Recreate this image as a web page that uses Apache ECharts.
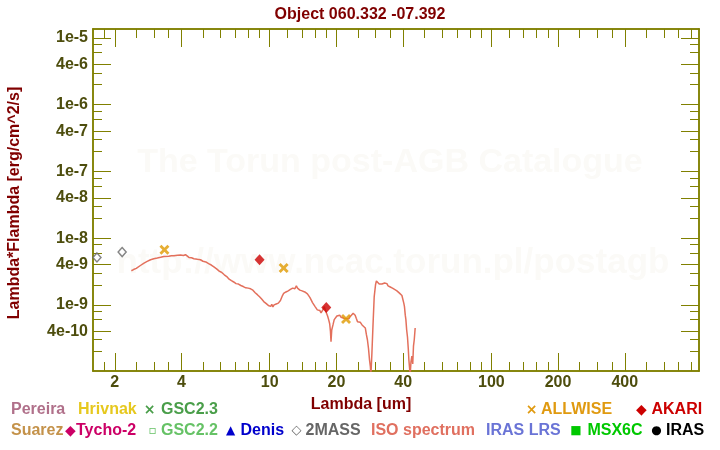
<!DOCTYPE html>
<html><head><meta charset="utf-8">
<script src="https://cdn.jsdelivr.net/npm/echarts@6/dist/echarts.min.js"></script>
<style>html,body{margin:0;padding:0;background:#fff}#c{width:720px;height:450px}</style>
</head><body><div id="c"></div>
<script>
// ---------- data ----------
const TITLE = 'Object 060.332 -07.392';
const X_NAME = 'Lambda [um]';
const Y_NAME = 'Lambda*Flambda [erg/cm^2/s]';
const X_MIN = 1.595, X_MAX = 865;
const Y_MIN = 1.02e-10, Y_MAX = 1.36e-5;
const X_MAJOR = [2, 4, 10, 20, 40, 100, 200, 400];
const X_MINOR = [1.8, 2.5, 3, 3.5, 5, 6, 7, 8, 9, 12, 14, 16, 18, 25, 30, 35, 50, 60, 70, 80, 90, 120, 140, 160, 180, 250, 300, 350, 500, 600, 700, 800];
const Y_MAJOR = [1e-5, 4e-6, 1e-6, 4e-7, 1e-7, 4e-8, 1e-8, 4e-9, 1e-9, 4e-10];
const Y_MINOR = [8e-6, 6e-6, 3e-6, 2e-6, 8e-7, 6e-7, 3e-7, 2e-7, 8e-8, 6e-8, 3e-8, 2e-8, 8e-9, 6e-9, 3e-9, 2e-9, 8e-10, 6e-10, 3e-10, 2e-10];

const ISO_WAVE = [2.376, 2.43, 2.50, 2.53, 2.62, 2.71, 2.80, 2.90, 3.00, 3.11, 3.22, 3.33, 3.50, 3.60, 3.70, 3.84, 3.96, 4.08, 4.17, 4.25, 4.32, 4.44, 4.55, 4.62, 4.72, 4.87,
  5.00, 5.08, 5.15, 5.22, 5.30, 5.38, 5.45, 5.52, 5.60, 5.68, 5.76, 5.84, 5.92, 6.00, 6.08, 6.16, 6.24, 6.32, 6.40, 6.48, 6.56, 6.64, 6.72, 6.80, 6.88, 6.96,
  7.05, 7.14, 7.23, 7.32, 7.41, 7.50, 7.60, 7.70, 7.80, 7.90, 8.00, 8.10, 8.20, 8.30, 8.40, 8.50, 8.60, 8.70, 8.80, 8.90, 9.00, 9.10, 9.20, 9.30, 9.40, 9.50,
  9.62, 9.74, 9.86, 9.98, 10.10, 10.22, 10.34, 10.46, 10.58, 10.70, 10.82, 10.94, 11.06, 11.18, 11.30, 11.42, 11.56, 11.70, 11.84, 11.98, 12.12, 12.26, 12.40,
  12.55, 12.70, 12.85, 13.00, 13.19, 13.35, 13.51, 13.68, 13.85, 14.00, 14.20, 14.40, 14.60, 14.80, 15.00, 15.20, 15.40, 15.60, 15.80, 16.00, 16.20, 16.40,
  16.63, 16.85, 17.05, 17.25, 17.45, 17.64, 17.85, 18.05, 18.25, 18.45, 18.65, 18.80, 18.91, 19.05, 19.30, 19.55, 19.80, 20.10, 20.40, 20.70, 21.00, 21.30,
  21.60, 21.90, 22.20, 22.50, 22.80, 23.10, 23.50, 23.80, 24.08, 24.30, 24.58, 24.90, 25.20, 25.60, 26.10, 26.50, 27.00, 27.30, 27.60, 27.92, 28.21, 28.45,
  28.63, 28.92, 29.23, 29.62, 30.03, 30.30, 30.60, 30.90, 31.20, 31.50, 31.80, 32.10, 32.40, 32.70, 33.00, 33.40, 33.80, 34.20, 34.60, 35.00, 35.40, 35.80,
  36.20, 36.60, 37.00, 37.50, 38.00, 38.50, 39.00, 39.50, 39.90, 40.30, 40.56, 40.90, 41.16, 41.50, 41.85, 42.20, 42.46, 42.80, 43.04, 43.40, 43.80, 44.20,
  44.54, 44.90, 45.33];
const ISO_FLUX = [3.24e-9, 3.38e-9, 3.52e-9, 3.63e-9, 3.92e-9, 4.23e-9, 4.47e-9, 4.74e-9, 4.91e-9, 5.02e-9, 5.16e-9, 5.31e-9, 5.35e-9, 5.42e-9, 5.45e-9, 5.53e-9, 5.57e-9, 5.48e-9, 5.64e-9, 5.40e-9, 5.13e-9, 5.08e-9, 4.91e-9, 5.05e-9, 4.81e-9, 4.74e-9,
  4.50e-9, 4.70e-9, 4.40e-9, 4.45e-9, 4.15e-9, 4.30e-9, 3.95e-9, 4.05e-9, 3.70e-9, 3.80e-9, 3.45e-9, 3.55e-9, 3.20e-9, 3.35e-9, 3.05e-9, 3.10e-9, 2.82e-9, 2.95e-9, 2.65e-9, 2.70e-9, 2.42e-9, 2.50e-9, 2.30e-9, 2.38e-9, 2.20e-9, 2.25e-9,
  2.08e-9, 2.20e-9, 2.05e-9, 2.10e-9, 1.95e-9, 2.05e-9, 1.88e-9, 1.95e-9, 1.80e-9, 1.88e-9, 1.78e-9, 1.88e-9, 1.74e-9, 1.82e-9, 1.66e-9, 1.70e-9, 1.52e-9, 1.58e-9, 1.42e-9, 1.46e-9, 1.32e-9, 1.38e-9, 1.22e-9, 1.26e-9, 1.12e-9, 1.18e-9,
  1.05e-9, 1.10e-9, 0.98e-9, 1.04e-9, 0.95e-9, 1.02e-9, 0.93e-9, 1.00e-9, 0.94e-9, 1.03e-9, 0.97e-9, 1.06e-9, 1.02e-9, 1.16e-9, 1.12e-9, 1.38e-9, 1.48e-9, 1.40e-9, 1.56e-9, 1.50e-9, 1.62e-9, 1.55e-9, 1.70e-9,
  1.62e-9, 1.78e-9, 1.84e-9, 1.74e-9, 1.93e-9, 1.78e-9, 1.72e-9, 1.66e-9, 1.70e-9, 1.62e-9, 1.70e-9, 1.56e-9, 1.58e-9, 1.46e-9, 1.42e-9, 1.28e-9, 1.20e-9, 1.08e-9, 1.04e-9, 0.95e-9, 0.90e-9, 0.84e-9,
  0.79e-9, 0.82e-9, 0.76e-9, 0.80e-9, 0.86e-9, 0.94e-9, 0.82e-9, 0.78e-9, 0.68e-9, 0.60e-9, 0.52e-9, 0.40e-9, 0.28e-9, 0.42e-9, 0.50e-9, 0.60e-9, 0.64e-9, 0.68e-9, 0.66e-9, 0.70e-9, 0.65e-9, 0.68e-9,
  0.63e-9, 0.66e-9, 0.62e-9, 0.65e-9, 0.62e-9, 0.67e-9, 0.71e-9, 0.75e-9, 0.79e-9, 0.70e-9, 0.63e-9, 0.56e-9, 0.53e-9, 0.55e-9, 0.50e-9, 0.48e-9, 0.45e-9, 0.36e-9, 0.30e-9, 0.22e-9, 0.15e-9, 0.12e-9,
  0.09e-9, 0.19e-9, 0.47e-9, 1.33e-9, 2.00e-9, 2.28e-9, 2.15e-9, 2.22e-9, 2.05e-9, 2.15e-9, 1.98e-9, 2.05e-9, 1.95e-9, 2.02e-9, 2.12e-9, 2.02e-9, 2.08e-9, 1.92e-9, 1.95e-9, 1.85e-9, 1.88e-9, 1.78e-9,
  1.80e-9, 1.70e-9, 1.72e-9, 1.62e-9, 1.58e-9, 1.50e-9, 1.48e-9, 1.38e-9, 1.30e-9, 1.05e-9, 0.94e-9, 0.70e-9, 0.60e-9, 0.42e-9, 0.33e-9, 0.22e-9, 0.15e-9, 0.11e-9, 0.09e-9, 0.14e-9, 0.17e-9, 0.13e-9,
  0.24e-9, 0.30e-9, 0.45e-9];

const TWOMASS_WAVE = [1.662, 2.159];
const TWOMASS_FLUX = [5.13e-9, 6.18e-9];
const ALLWISE_WAVE = [3.35, 11.56, 22.1];
const ALLWISE_FLUX = [6.70e-9, 3.56e-9, 6.16e-10];
const AKARI_WAVE = [9, 18];
const AKARI_FLUX = [4.74e-9, 9.11e-10];

// ---------- styling ----------
const FONT = '"Liberation Sans", Arial, sans-serif';
const OLIVE = '#808000';
const TICK_TXT = '#4d4d0d';
const DARKRED = '#800000';

const zip = (a, b) => a.map((v, i) => [v, b[i]]);
const xFmt = v => String(+(+v).toPrecision(3));
const yFmt = v => { const e = Math.floor(Math.log10(v) + 1e-9); const m = Math.round(v / Math.pow(10, e)); return m + 'e' + e; };

function xAxisDef(pos, vals, len, labels) {
  return {
    type: 'log', position: pos, min: X_MIN, max: X_MAX, logBase: 10,
    axisLine: { show: true, onZero: false, lineStyle: { color: OLIVE, width: 1.5 } },
    axisTick: { show: true, inside: true, length: len, customValues: vals, lineStyle: { color: OLIVE, width: 1 } },
    axisLabel: labels ? { show: true, customValues: vals, formatter: xFmt, color: TICK_TXT, fontSize: 16, fontWeight: 'bold', fontFamily: FONT, margin: 4 } : { show: false },
    splitLine: { show: false }, minorTick: { show: false }
  };
}
function yAxisDef(pos, vals, len, labels) {
  return {
    type: 'log', position: pos, min: Y_MIN, max: Y_MAX, logBase: 10,
    axisLine: { show: true, onZero: false, lineStyle: { color: OLIVE, width: 1.5 } },
    axisTick: { show: true, inside: true, length: len, customValues: vals, lineStyle: { color: OLIVE, width: 1 } },
    axisLabel: labels ? { show: true, customValues: vals, formatter: yFmt, color: TICK_TXT, fontSize: 16, fontWeight: 'bold', fontFamily: FONT, margin: 5 } : { show: false },
    splitLine: { show: false }, minorTick: { show: false }
  };
}

const XSHAPE = 'path://M0,2L2,0L5,3L8,0L10,2L7,5L10,8L8,10L5,7L2,10L0,8L3,5Z';

const legendItems = [
  { t: 'Pereira', c: '#b0708a', x: 11, y: 410 },
  { t: 'Hrivnak', c: '#e6c81e', x: 78, y: 410 },
  { s: '×', fs: 14, t: 'GSC2.3', c: '#4a9e4a', sx: 149.5, x: 161, y: 410 },
  { s: '×', fs: 14, t: 'ALLWISE', c: '#e09a10', sx: 531.5, x: 541, y: 410 },
  { s: '◆', fs: 14, t: 'AKARI', c: '#cc0000', sx: 641.5, x: 651.5, y: 410 },
  { t: 'Suarez', c: '#c4924a', x: 11, y: 431 },
  { s: '◆', fs: 14, t: 'Tycho-2', c: '#cc0066', sx: 70.5, x: 76, y: 431 },
  { s: '▫', fs: 12, t: 'GSC2.2', c: '#66c266', sx: 152.5, x: 161, y: 431 },
  { s: '▲', fs: 12, t: 'Denis', c: '#0000cc', sx: 230.5, x: 240.5, y: 431 },
  { s: '◇', fs: 13, t: '2MASS', c: '#666666', sx: 296.5, x: 305.5, y: 431 },
  { t: 'ISO spectrum', c: '#e07060', x: 371, y: 431 },
  { t: 'IRAS LRS', c: '#6a74d6', x: 486, y: 431 },
  { s: '■', fs: 12, t: 'MSX6C', c: '#00c800', sx: 575.8, x: 587.4, y: 431 },
  { s: '●', fs: 12, t: 'IRAS', c: '#000000', sx: 656.5, x: 666, y: 431 }
];

const graphics = [
  { type: 'text', x: 390, y: 163, z: -10, silent: true, style: { text: 'The Torun post-AGB Catalogue', fill: '#fbfaf7', font: 'bold 34px ' + FONT, textAlign: 'center', textVerticalAlign: 'middle' } },
  { type: 'text', x: 393, y: 263, z: -10, silent: true, style: { text: 'http://www.ncac.torun.pl/postagb', fill: '#fbfaf7', font: 'bold 35px ' + FONT, textAlign: 'center', textVerticalAlign: 'middle' } },
  { type: 'text', x: 361, y: 405, style: { text: X_NAME, fill: DARKRED, font: 'bold 16px ' + FONT, textAlign: 'center', textVerticalAlign: 'middle' } },
  { type: 'text', x: 15, y: 203, rotation: Math.PI / 2, style: { text: Y_NAME, fill: DARKRED, font: 'bold 16px ' + FONT, textAlign: 'center', textVerticalAlign: 'middle' } }
];
legendItems.forEach(it => {
  if (it.s) graphics.push({ type: 'text', x: it.sx, y: it.y, style: { text: it.s, fill: it.c, font: 'bold ' + it.fs + 'px "DejaVu Sans", sans-serif', textAlign: 'center', textVerticalAlign: 'middle' } });
  graphics.push({ type: 'text', x: it.x, y: it.y, style: { text: it.t, fill: it.c, font: 'bold 16px ' + FONT, textAlign: 'left', textVerticalAlign: 'middle' } });
});

const chart = echarts.init(document.getElementById('c'), null, { renderer: 'canvas' });
chart.setOption({
  animation: false,
  backgroundColor: '#ffffff',
  title: { text: TITLE, left: 'center', top: 2, textStyle: { color: DARKRED, fontSize: 16, fontWeight: 'bold', fontFamily: FONT } },
  grid: { left: 93, right: 21, top: 29, bottom: 79, containLabel: false, outerBoundsMode: 'none' },
  xAxis: [
    xAxisDef('bottom', X_MAJOR, 18, true),
    xAxisDef('bottom', X_MINOR, 9, false),
    xAxisDef('top', X_MAJOR, 18, false),
    xAxisDef('top', X_MINOR, 9, false)
  ],
  yAxis: [
    yAxisDef('left', Y_MAJOR, 18, true),
    yAxisDef('left', Y_MINOR, 9, false),
    yAxisDef('right', Y_MAJOR, 18, false),
    yAxisDef('right', Y_MINOR, 9, false)
  ],
  graphic: graphics,
  series: [
    { name: 'ISO spectrum', type: 'line', xAxisIndex: 0, yAxisIndex: 0, data: zip(ISO_WAVE, ISO_FLUX), showSymbol: false, symbol: 'none', clip: true, lineStyle: { color: '#e3705c', width: 1.5 }, z: 3 },
    { name: '2MASS', type: 'scatter', xAxisIndex: 0, yAxisIndex: 0, data: zip(TWOMASS_WAVE, TWOMASS_FLUX), symbol: 'diamond', symbolSize: [8, 9], itemStyle: { color: '#ffffff', borderColor: '#666666', borderWidth: 1.5 }, z: 4 },
    { name: 'ALLWISE', type: 'scatter', xAxisIndex: 0, yAxisIndex: 0, data: zip(ALLWISE_WAVE, ALLWISE_FLUX), symbol: XSHAPE, symbolSize: 10, itemStyle: { color: '#e09a00' }, z: 4 },
    { name: 'AKARI', type: 'scatter', xAxisIndex: 0, yAxisIndex: 0, data: zip(AKARI_WAVE, AKARI_FLUX), symbol: 'diamond', symbolSize: [10, 11], itemStyle: { color: '#cc0000' }, z: 4 }
  ]
});
</script>
</body></html>
